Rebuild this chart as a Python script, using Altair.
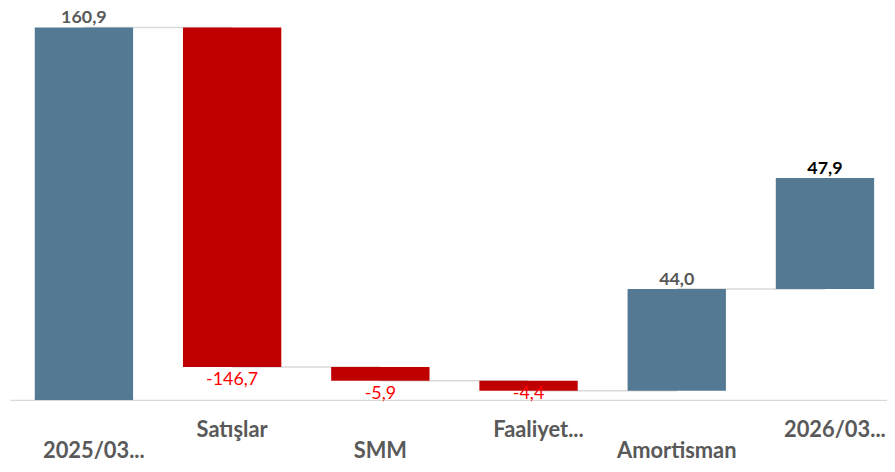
import altair as alt
import pandas as pd

categories = ["2025/03...", "Satışlar", "SMM", "Faaliyet...", "Amortisman", "2026/03..."]
values = [160.9, -146.7, -5.9, -4.4, 44.0, 47.9]

rows = []
run = 0.0
for i, (c, v) in enumerate(zip(categories, values)):
    start = run
    end = run + v
    run = end
    lo, hi = min(start, end), max(start, end)
    rows.append(dict(
        cat=c, start=start, end=end, lo=lo, hi=hi,
        # negative labels sit under the bar but are kept inside the plot area
        neg_anchor=max(lo, 8.2),
        label=f"{v:.1f}".replace(".", ","),
        sign="pos" if v >= 0 else "neg",
        row="low" if i % 2 == 0 else "high",
        trunc=c.endswith("..."),
        last=(i == len(categories) - 1),
        nxt=categories[i + 1] if i + 1 < len(categories) else None,
    ))
df = pd.DataFrame(rows)

BLUE = "#547A93"
RED = "#C00000"
GREY = "#595959"
LINE = "#D9D9D9"
FONT = "Lato"

xscale = alt.Scale(domain=categories, paddingInner=0.3365, paddingOuter=0.127, align=0.658)
yscale = alt.Scale(domain=[0, 160.9], nice=False, zero=True)

base = alt.Chart(df)

xenc = alt.X("cat:N", scale=xscale, sort=categories,
             axis=alt.Axis(title=None, labels=False, ticks=False, domain=True,
                           domainColor=LINE, domainWidth=1.5, grid=False))

connectors = base.transform_filter("datum.nxt != null").mark_rule(
    color=LINE, strokeWidth=1.5
).encode(
    x=xenc,
    x2="nxt:N",
    y=alt.Y("end:Q", scale=yscale, axis=None),
)

bars = base.mark_bar(cornerRadius=0).encode(
    x=xenc,
    y=alt.Y("lo:Q", scale=yscale, axis=None),
    y2="hi:Q",
    color=alt.Color("sign:N", scale=alt.Scale(domain=["pos", "neg"], range=[BLUE, RED]), legend=None),
)

pos_labels = base.transform_filter("datum.sign == 'pos'").mark_text(
    font=FONT, fontSize=18, fontWeight="bold", baseline="alphabetic", dy=-4
).encode(
    x=xenc,
    y=alt.Y("hi:Q", scale=yscale, axis=None),
    text="label:N",
    color=alt.condition("datum.last", alt.value("#000000"), alt.value(GREY)),
)

neg_labels = base.transform_filter("datum.sign == 'neg'").mark_text(
    font=FONT, fontSize=18, baseline="top", dy=4, color="#FF0000"
).encode(
    x=xenc,
    y=alt.Y("neg_anchor:Q", scale=yscale, axis=None),
    text="label:N",
)

H = 375
cat_layers = []
for row, ypix in [("high", H + 37), ("low", H + 59)]:
    for trunc, dx in [(True, 10), (False, 0)]:
        cat_layers.append(
            base.transform_filter(
                f"datum.row == '{row}' && datum.trunc == {str(trunc).lower()}"
            ).mark_text(
                font=FONT, fontSize=22, fontWeight="bold", color=GREY,
                baseline="alphabetic", dx=dx
            ).encode(
                x=xenc,
                y=alt.value(ypix),
                text="cat:N",
            )
        )

chart = alt.layer(connectors, bars, pos_labels, neg_labels, *cat_layers).properties(
    width=883, height=H,
    padding={"left": 2, "top": 18, "right": 0, "bottom": 62},
    autosize=alt.AutoSizeParams(type="none"),
).configure(
    background="white",
    view=alt.ViewConfig(stroke="transparent", strokeWidth=0),
)

chart.save("out.html", embed_options={"renderer": "svg", "actions": False})
